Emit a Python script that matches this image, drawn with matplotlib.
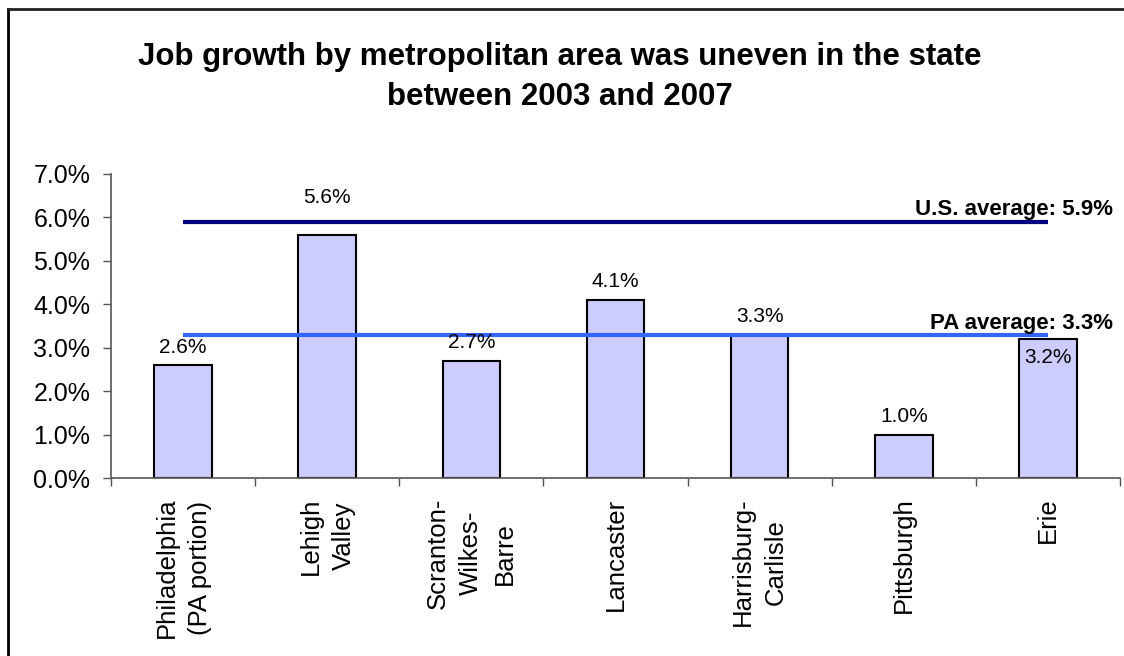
import matplotlib
matplotlib.use("Agg")
import matplotlib.pyplot as plt
from matplotlib.lines import Line2D
import numpy as np

plt.rcParams['font.family'] = ['Liberation Sans', 'DejaVu Sans']

# data
areas = ["Philadelphia\n(PA portion)", "Lehigh\nValley", "Scranton-\nWilkes-\nBarre",
         "Lancaster", "Harrisburg-\nCarlisle", "Pittsburgh", "Erie"]
growth = [2.6, 5.6, 2.7, 4.1, 3.3, 1.0, 3.2]
us_avg = 5.9
pa_avg = 3.3
yticks = [0, 1, 2, 3, 4, 5, 6, 7]

W, H = 1124, 656
fig = plt.figure(figsize=(W / 100, H / 100), dpi=100)
ax = fig.add_axes([111 / W, 1 - 478 / H, (1120 - 111) / W, (478 - 174) / H])

x = np.arange(len(areas))
ax.bar(x, growth, width=0.40, color="#CCCCFF", edgecolor="black", linewidth=1.5, zorder=2)

# average lines span first to last category centre
ax.plot([x[0], x[-1]], [us_avg, us_avg], color="#000080", lw=3, zorder=3, solid_capstyle="butt")
ax.plot([x[0], x[-1]], [pa_avg, pa_avg], color="#3366FF", lw=3, zorder=3, solid_capstyle="butt")
ax.annotate(f"U.S. average: {us_avg:.1f}%", (1, us_avg), xycoords=("axes fraction", "data"),
            xytext=(-5, 9), textcoords="offset points", ha="right", va="center",
            fontsize=16, fontweight="bold")
ax.annotate(f"PA average: {pa_avg:.1f}%", (1, pa_avg), xycoords=("axes fraction", "data"),
            xytext=(-5, 8), textcoords="offset points", ha="right", va="center",
            fontsize=16, fontweight="bold")

# bar value labels (Lehigh pushed above US line, Erie inside bar)
for i, v in enumerate(growth):
    if i == 1:
        dy = 27
    elif i == len(growth) - 1:
        dy = -13
    else:
        dy = 13
    ax.annotate(f"{v:.1f}%", (x[i], v), xytext=(0, dy), textcoords="offset points",
                ha="center", va="center", fontsize=15, zorder=4)

ax.set_xlim(-0.5, len(areas) - 0.5)
ax.set_ylim(0, 7)
ax.set_yticks(yticks)
ax.set_yticklabels([f"{t:.1f}%" for t in yticks], fontsize=18)
ax.set_xticks(np.arange(len(areas) + 1) - 0.5)
ax.set_xticklabels([])
ax.tick_params(axis="y", length=6, width=1, color="#555555", pad=9)
ax.tick_params(axis="x", length=6, width=1, color="#555555")
for s in ["top", "right"]:
    ax.spines[s].set_visible(False)
for s in ["left", "bottom"]:
    ax.spines[s].set_color("#555555")
    ax.spines[s].set_linewidth(1.2)

for i, name in enumerate(areas):
    ax.annotate(name, (x[i], 0), xycoords=("data", "axes fraction"), xytext=(0, -14),
                textcoords="offset points", rotation=90, ha="center", va="top",
                multialignment="center", fontsize=18.5, linespacing=1.48)

fig.text(560 / W, 1 - 77 / H, "Job growth by metropolitan area was uneven in the state\nbetween 2003 and 2007",
         ha="center", va="center", fontsize=22.5, fontweight="bold", linespacing=1.45)

# chart frame (left and top edges visible)
fig.add_artist(Line2D([7.5 / W, 7.5 / W], [0, 1 - 9 / H], color="black", lw=2, transform=fig.transFigure))
fig.add_artist(Line2D([7.5 / W, 1], [1 - 9 / H, 1 - 9 / H], color="#222222", lw=2, transform=fig.transFigure))

fig.savefig("out.png", dpi=100)
